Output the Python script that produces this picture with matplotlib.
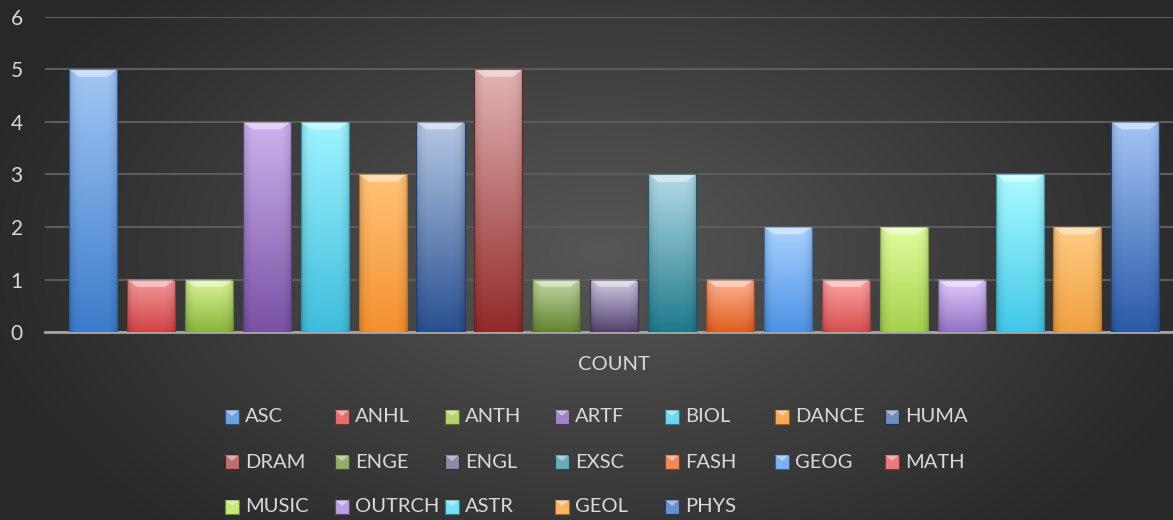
import matplotlib
matplotlib.use("Agg")
import matplotlib.pyplot as plt
import matplotlib.patches as mpatches
import numpy as np
from matplotlib.colors import to_rgb

plt.rcParams['font.family'] = ['Lato', 'DejaVu Sans']

# data
labels = ["ASC", "ANHL", "ANTH", "ARTF", "BIOL", "DANCE", "HUMA",
          "DRAM", "ENGE", "ENGL", "EXSC", "FASH", "GEOG", "MATH",
          "MUSIC", "OUTRCH", "ASTR", "GEOL", "PHYS"]
counts = [5, 1, 1, 4, 4, 3, 4, 5, 1, 1, 3, 1, 2, 1, 2, 1, 3, 2, 4]
category = "COUNT"
# gradient top / bottom colours for each series
top_colors = ["#a2c6f4", "#f49a9a", "#dcf598", "#cdb2ee", "#9ef4ff", "#ffc478",
              "#b4c8e4", "#e2b4b4", "#c4d8a4", "#d4cce4", "#b4dae8", "#ffb494",
              "#a6d2ff", "#ffa4a4", "#e2fd9c", "#e2ccff", "#abfcff", "#ffcc84",
              "#a4c4f4"]
bot_colors = ["#3c7ccc", "#d04444", "#8ab43e", "#7a52a4", "#40bcdc", "#f49030",
              "#2a5090", "#922a2a", "#628432", "#52426e", "#1f7a8c", "#e05e1e",
              "#4e92e4", "#d65050", "#a6d04e", "#9272c2", "#42c8e8", "#f0a040",
              "#2a5aa8"]

W, H = 1173, 520
fig = plt.figure(figsize=(W / 100, H / 100), dpi=100)

# radial background
bg = fig.add_axes([0, 0, 1, 1], zorder=-10)
yy, xx = np.mgrid[0:H, 0:W]
r = np.sqrt(((xx - 600) / 700.0) ** 2 + ((yy - 250) / 420.0) ** 2)
v = np.clip(0.34 - 0.20 * r, 0.16, 0.34)
bg.imshow(np.dstack([v, v, v]), aspect='auto', extent=(0, 1, 0, 1))
bg.set_axis_off()

left, right = 45 / W, 1.0
bottom, top = (H - 332) / H, (H - 17) / H
ax = fig.add_axes([left, bottom, right - left, top - bottom])
ax.patch.set_alpha(0)

x = np.arange(len(labels))
bw = 0.83
bars = ax.bar(x, counts, width=bw, color='none', zorder=3)

ny = 64
nx = 32
for rect, c, tc, bc in zip(bars, counts, top_colors, bot_colors):
    t = np.array(to_rgb(tc))
    b = np.array(to_rgb(bc))
    f = np.linspace(0, 1, ny)[:, None, None]
    img = t * (1 - f) + b * f
    img = np.repeat(img, nx, axis=1)
    hx = np.abs(np.linspace(-1, 1, nx))
    shade = 1 - 0.18 * hx ** 6
    img = img * shade[None, :, None]
    x0 = rect.get_x()
    im = ax.imshow(np.clip(img, 0, 1), extent=(x0, x0 + bw, 0, c),
                   aspect='auto', zorder=4, interpolation='bilinear')
    im.set_clip_path(rect)
    edge = mpatches.Rectangle((x0, 0), bw, c, fill=False,
                              edgecolor=tuple(b * 0.75), lw=0.8, zorder=5)
    ax.add_patch(edge)
    # top bevel
    d, e = 0.17, 0.14
    bev = mpatches.Polygon([(x0, c), (x0 + bw, c), (x0 + bw - d, c - e),
                            (x0 + d, c - e)], closed=True,
                           facecolor='white', alpha=0.45, lw=0, zorder=6)
    ax.add_patch(bev)

ax.set_xlim(-0.83, 18.65)
ax.set_ylim(0, 6)
ax.set_yticks(range(7))
ax.yaxis.grid(True, color='#5c5c5c', lw=1.5, zorder=0)
ax.set_axisbelow(True)
for s in ['top', 'right', 'left']:
    ax.spines[s].set_visible(False)
ax.spines['bottom'].set_color('#a6a6a6')
ax.spines['bottom'].set_linewidth(2)
ax.tick_params(axis='y', length=0, pad=16, labelsize=15, labelcolor='#d9d9d9')
ax.set_xticks([])
fig.text(614 / W, 1 - 364 / H, category, ha='center', va='center',
         fontsize=14.5, color='#d9d9d9')

# legend: 7 equal columns, 3 rows
ncol = 7
for i, lab in enumerate(labels):
    row, col = divmod(i, ncol)
    mx = 232 + 110 * col
    my = 417 + 45 * row
    t = np.array(to_rgb(top_colors[i]))
    b = np.array(to_rgb(bot_colors[i]))
    mid = (t + b) / 2
    fig.patches.append(mpatches.Rectangle(((mx - 7) / W, 1 - (my + 7) / H), 14 / W, 14 / H,
                                          transform=fig.transFigure, facecolor=mid,
                                          edgecolor=tuple(b * 0.65), lw=0.8))
    fig.patches.append(mpatches.Polygon([((mx - 7) / W, 1 - (my - 7) / H),
                                         ((mx + 7) / W, 1 - (my - 7) / H),
                                         (mx / W, 1 - (my - 1) / H)],
                                        transform=fig.transFigure, facecolor='white',
                                        alpha=0.45, lw=0))
    fig.text((mx + 13) / W, 1 - my / H, lab, ha='left', va='center',
             fontsize=14.5, color='#d9d9d9')

fig.savefig("out.png", dpi=100)
